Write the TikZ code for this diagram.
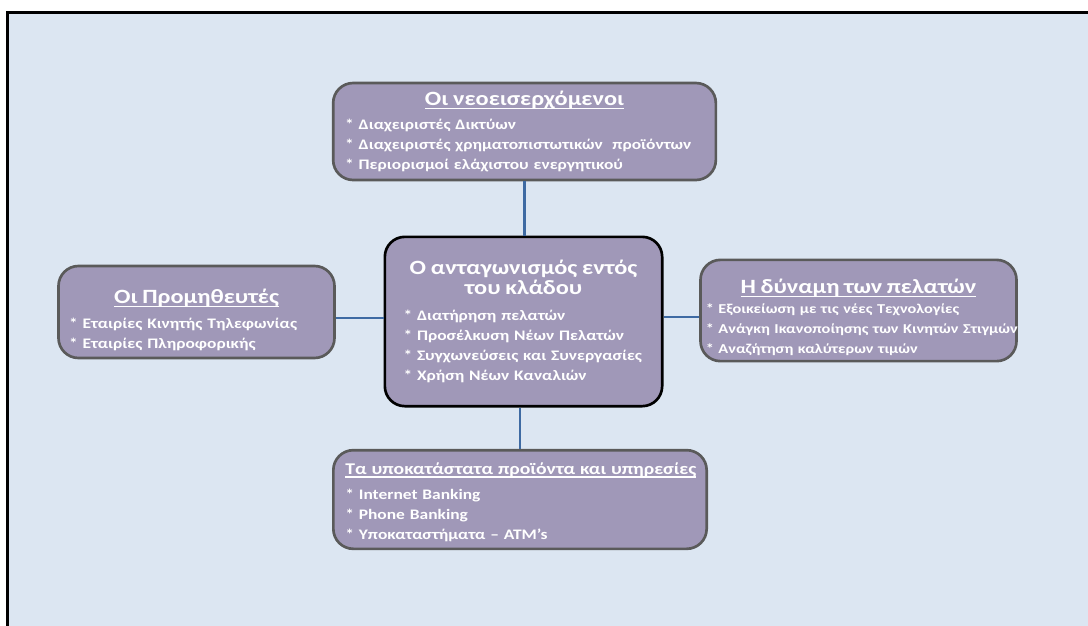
\documentclass[tikz,border=0pt]{standalone}
\usepackage{fontspec}
\setmainfont{Carlito}[FakeStretch=1.2]
\setlength{\parindent}{0pt}
\definecolor{bgblue}{RGB}{220,230,242}
\definecolor{boxfill}{RGB}{160,152,184}
\definecolor{boxline}{RGB}{90,90,90}
\definecolor{linkblue}{RGB}{62,106,163}
\tikzset{
  box/.style={draw=boxline, line width=2pt, fill=boxfill, rounded corners=15pt,
    text=white, align=left, inner xsep=9pt, inner ysep=4pt,
    font=\bfseries\fontsize{10.9}{15}\selectfont},
  link/.style={draw=linkblue, line width=2pt}
}
\newcommand{\ulin}[2][0pt]{\leavevmode\setbox0\hbox{#2}\rlap{\vrule height -1.8pt depth 2.8pt width\wd0}\copy0\rule{0pt}{\dimexpr\ht0+#1\relax}}
\newcommand{\boxhead}[3][3.5pt]{{\centering\fontsize{15.2}{19}\selectfont\ulin[#2]{#3}\par}\vspace{#1}}
\newcommand{\itm}{{*}\ }
\begin{document}
\begin{tikzpicture}[x=0.75pt,y=-0.75pt]
  \useasboundingbox (0,0) rectangle (1088,625);
  \clip (0,0) rectangle (1088,625);
  \draw[line width=2.3pt, fill=bgblue] (7.5,12.5) rectangle (1110,650);

  \node[box, text width=269pt, minimum height=72.75pt] (entrants) at (524.5,131.5)
    {\boxhead{0pt}{Οι νεοεισερχόμενοι}
     \itm Διαχειριστές Δικτύων\\
     \itm Διαχειριστές χρηματοπιστωτικών\ \ προϊόντων\\
     \itm Περιορισμοί ελάχιστου ενεργητικού};
  \node[box, draw=black, text width=180pt, inner xsep=14pt, minimum height=127pt] (rivalry) at (523.5,321.5)
    {{\centering\fontsize{15.2}{14.5}\selectfont Ο ανταγωνισμός εντός\\ του κλάδου\par}\vspace{4.5pt}
     \itm Διατήρηση πελατών\\
     \itm Προσέλκυση Νέων Πελατών\\
     \itm Συγχωνεύσεις και Συνεργασίες\\
     \itm Χρήση Νέων Καναλιών};
  \node[box, text width=191pt, inner xsep=8pt, minimum height=69pt] (suppliers) at (196.5,312)
    {\boxhead{12pt}{Οι Προμηθευτές}
     \itm Εταιρίες Κινητής Τηλεφωνίας\\
     \itm Εταιρίες Πληροφορικής};
  \node[box, text width=229pt, inner xsep=4pt, minimum height=71pt,
        font=\bfseries\fontsize{10.2}{15}\selectfont] (buyers) at (858.5,310.5)
    {\boxhead[0pt]{10.5pt}{Η δύναμη των πελατών}
     \itm Εξοικείωση με τις νέες Τεχνολογίες\\
     \mbox{\itm Ανάγκη Ικανοποίησης των Κινητών Στιγμών}\\
     \itm Αναζήτηση καλύτερων τιμών};
  \node[box, text width=262pt, inner xsep=9pt, minimum height=74pt] (substitutes) at (520,499.5)
    {\vspace*{4pt}{\fontsize{12.3}{15}\selectfont\ulin[3.8pt]{Τα υποκατάστατα προϊόντα και υπηρεσίες}}\\
     \itm Internet Banking\\
     \itm Phone Banking\\
     \itm Υποκαταστήματα – ATM’s};

  \draw[link] (entrants.south) -- (entrants.south |- rivalry.north);
  \draw[link] (substitutes.north) -- (substitutes.north |- rivalry.south);
  \draw[link] ([yshift=-4.5pt]suppliers.east) -- ([yshift=-4.5pt]suppliers.east -| rivalry.west);
  \draw[link] ([yshift=-4.9pt]buyers.west) -- ([yshift=-4.9pt]buyers.west -| rivalry.east);
\end{tikzpicture}
\end{document}
